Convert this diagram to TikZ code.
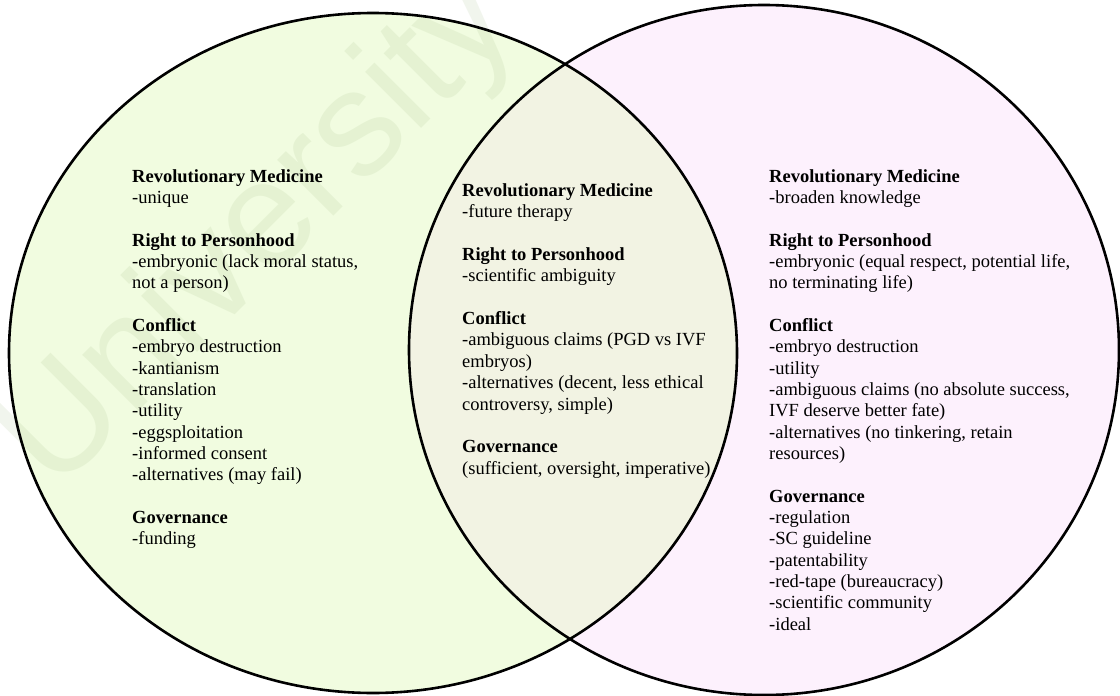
\documentclass[tikz,border=0pt]{standalone}
\usepackage{fontspec}
\setmainfont{Liberation Serif}
\newfontfamily\markfont{Liberation Sans}
\definecolor{leftfill}{RGB}{241,252,224}
\definecolor{rightfill}{RGB}{253,241,253}
\definecolor{midfill}{RGB}{242,243,227}
\definecolor{markcol}{RGB}{150,180,120}
\begin{document}
\begin{tikzpicture}[x=1pt,y=-1pt,
  colbox/.style={anchor=base west, inner sep=0pt,
    font=\fontsize{18.5}{21.35}\selectfont},
  rim/.style={draw=black, line width=2.6pt}]
\useasboundingbox (0,0) rectangle (1120,696);
\fill[white] (0,0) rectangle (1120,696);

% set fills
\fill[leftfill]  (373,353) ellipse [x radius=364, y radius=340];
\fill[rightfill] (764,350) ellipse [x radius=355, y radius=345];
\begin{scope}
  \clip (373,353) ellipse [x radius=364, y radius=340];
  \fill[midfill] (764,350) ellipse [x radius=355, y radius=345];
\end{scope}

% faint watermark
\begin{scope}
  \clip (0,0) rectangle (1120,696);
  \node[rotate=45, anchor=base west, inner sep=0pt, text=markcol,
        text opacity=0.13, font=\markfont\fontsize{150}{150}\selectfont]
        (mark) at (55,495) {University of Malaya};
\end{scope}

% set outlines
\draw[rim] (373,353) ellipse [x radius=364, y radius=340];
\draw[rim] (764,350) ellipse [x radius=355, y radius=345];

% left set
\node[colbox] (leftset) at (132,182) {\begin{tabular}[t]{@{}l@{}}
\textbf{Revolutionary Medicine}\\
-unique\\
\\
\textbf{Right to Personhood}\\
-embryonic (lack moral status,\\
not a person)\\
\\
\textbf{Conflict}\\
-embryo destruction\\
-kantianism\\
-translation\\
-utility\\
-eggsploitation\\
-informed consent\\
-alternatives (may fail)\\
\\
\textbf{Governance}\\
-funding
\end{tabular}};

% shared region
\node[colbox] (shared) at (462,196.5) {\begin{tabular}[t]{@{}l@{}}
\textbf{Revolutionary Medicine}\\
-future therapy\\
\\
\textbf{Right to Personhood}\\
-scientific ambiguity\\
\\
\textbf{Conflict}\\
-ambiguous claims (PGD vs IVF\\
embryos)\\
-alternatives (decent, less ethical\\
controversy, simple)\\
\\
\textbf{Governance}\\
(sufficient, oversight, imperative)
\end{tabular}};

% right set
\node[colbox] (rightset) at (769,182) {\begin{tabular}[t]{@{}l@{}}
\textbf{Revolutionary Medicine}\\
-broaden knowledge\\
\\
\textbf{Right to Personhood}\\
-embryonic (equal respect, potential life,\\
no terminating life)\\
\\
\textbf{Conflict}\\
-embryo destruction\\
-utility\\
-ambiguous claims (no absolute success,\\
IVF deserve better fate)\\
-alternatives (no tinkering, retain\\
resources)\\
\\
\textbf{Governance}\\
-regulation\\
-SC guideline\\
-patentability\\
-red-tape (bureaucracy)\\
-scientific community\\
-ideal
\end{tabular}};
\end{tikzpicture}
\end{document}
